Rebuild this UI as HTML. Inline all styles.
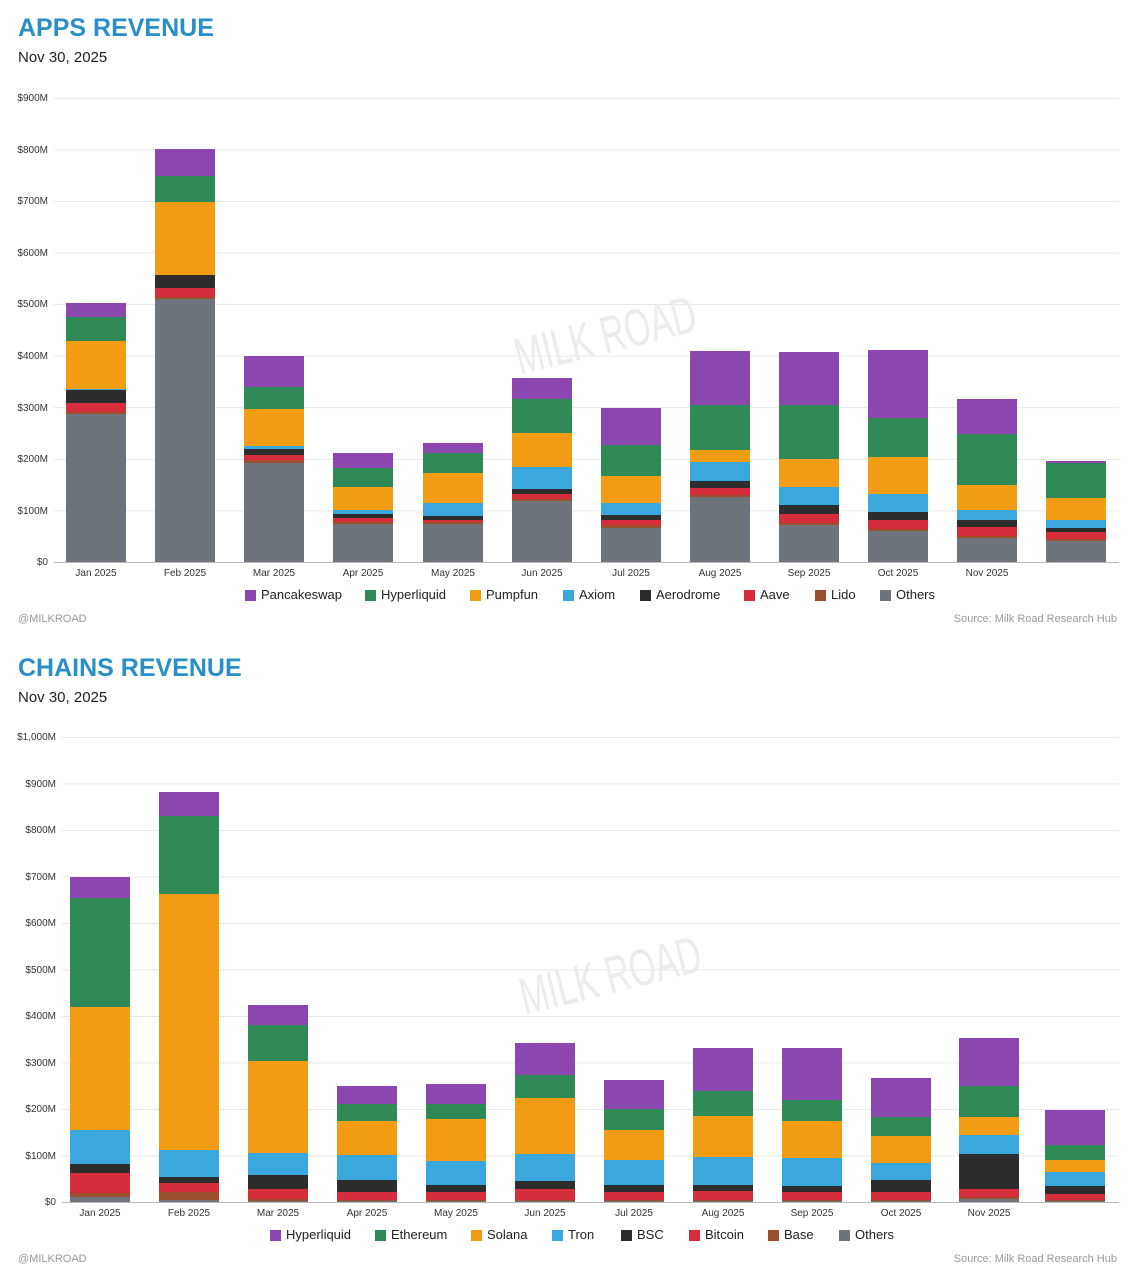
<!DOCTYPE html>
<html><head><meta charset="utf-8"><style>
body{margin:0;background:#fff;width:1137px;height:1280px;overflow:hidden;font-family:"Liberation Sans",Arial,sans-serif}
</style></head><body>
<svg id="s" width="1137" height="1280" xmlns="http://www.w3.org/2000/svg" font-family="Liberation Sans, Arial, sans-serif">
<rect width="1137" height="1280" fill="#fff"/>
<text x="18" y="36" font-size="25" font-weight="bold" fill="#2a8fc6">APPS REVENUE</text>
<text x="18" y="62" font-size="15" fill="#222">Nov 30, 2025</text>
<text x="18" y="676" font-size="25" font-weight="bold" fill="#2a8fc6">CHAINS REVENUE</text>
<text x="18" y="702" font-size="15" fill="#222">Nov 30, 2025</text>
<g id="grid"></g>
<g font-size="10" fill="#333" text-anchor="end">
<text x="48" y="565">$0</text><text x="48" y="514">$100M</text><text x="48" y="462">$200M</text><text x="48" y="411">$300M</text><text x="48" y="359">$400M</text><text x="48" y="307">$500M</text><text x="48" y="256">$600M</text><text x="48" y="204">$700M</text><text x="48" y="153">$800M</text><text x="48" y="101">$900M</text>
<text x="56" y="1205">$0</text><text x="56" y="1159">$100M</text><text x="56" y="1112">$200M</text><text x="56" y="1066">$300M</text><text x="56" y="1019">$400M</text><text x="56" y="973">$500M</text><text x="56" y="926">$600M</text><text x="56" y="880">$700M</text><text x="56" y="833">$800M</text><text x="56" y="787">$900M</text><text x="56" y="740">$1,000M</text>
</g>
<text x="520" y="375" font-size="52" fill="#ececec" transform="rotate(-14 520 375)" textLength="185" lengthAdjust="spacingAndGlyphs">MILK ROAD</text>
<text x="525" y="1015" font-size="52" fill="#ececec" transform="rotate(-14 525 1015)" textLength="185" lengthAdjust="spacingAndGlyphs">MILK ROAD</text>
<g id="bars"></g>
<g font-size="10" fill="#333" text-anchor="middle">
<text x="96" y="576">Jan 2025</text><text x="185" y="576">Feb 2025</text><text x="274" y="576">Mar 2025</text><text x="363" y="576">Apr 2025</text><text x="453" y="576">May 2025</text><text x="542" y="576">Jun 2025</text><text x="631" y="576">Jul 2025</text><text x="720" y="576">Aug 2025</text><text x="809" y="576">Sep 2025</text><text x="898" y="576">Oct 2025</text><text x="987" y="576">Nov 2025</text>
<text x="100" y="1216">Jan 2025</text><text x="189" y="1216">Feb 2025</text><text x="278" y="1216">Mar 2025</text><text x="367" y="1216">Apr 2025</text><text x="456" y="1216">May 2025</text><text x="545" y="1216">Jun 2025</text><text x="634" y="1216">Jul 2025</text><text x="723" y="1216">Aug 2025</text><text x="812" y="1216">Sep 2025</text><text x="901" y="1216">Oct 2025</text><text x="989" y="1216">Nov 2025</text>
</g>
<g font-size="13" fill="#222">
<rect x="245" y="590" width="11" height="11" fill="#8b46b0"/><text x="261" y="599">Pancakeswap</text>
<rect x="365" y="590" width="11" height="11" fill="#2f8a57"/><text x="381" y="599">Hyperliquid</text>
<rect x="470" y="590" width="11" height="11" fill="#f29c14"/><text x="486" y="599">Pumpfun</text>
<rect x="563" y="590" width="11" height="11" fill="#3aa8dc"/><text x="579" y="599">Axiom</text>
<rect x="640" y="590" width="11" height="11" fill="#2d2d2d"/><text x="656" y="599">Aerodrome</text>
<rect x="744" y="590" width="11" height="11" fill="#d62d3c"/><text x="760" y="599">Aave</text>
<rect x="815" y="590" width="11" height="11" fill="#9c4f2c"/><text x="831" y="599">Lido</text>
<rect x="880" y="590" width="11" height="11" fill="#6d747c"/><text x="896" y="599">Others</text>
<rect x="270" y="1230" width="11" height="11" fill="#8b46b0"/><text x="286" y="1239">Hyperliquid</text>
<rect x="375" y="1230" width="11" height="11" fill="#2f8a57"/><text x="391" y="1239">Ethereum</text>
<rect x="471" y="1230" width="11" height="11" fill="#f29c14"/><text x="487" y="1239">Solana</text>
<rect x="552" y="1230" width="11" height="11" fill="#3aa8dc"/><text x="568" y="1239">Tron</text>
<rect x="621" y="1230" width="11" height="11" fill="#2d2d2d"/><text x="637" y="1239">BSC</text>
<rect x="689" y="1230" width="11" height="11" fill="#d62d3c"/><text x="705" y="1239">Bitcoin</text>
<rect x="768" y="1230" width="11" height="11" fill="#9c4f2c"/><text x="784" y="1239">Base</text>
<rect x="839" y="1230" width="11" height="11" fill="#6d747c"/><text x="855" y="1239">Others</text>
</g>
<g font-size="11" fill="#999">
<text x="18" y="622">@MILKROAD</text><text x="1117" y="622" text-anchor="end">Source: Milk Road Research Hub</text>
<text x="18" y="1262">@MILKROAD</text><text x="1117" y="1262" text-anchor="end">Source: Milk Road Research Hub</text>
</g>
</svg>
<script>
(function(){
var NS="http://www.w3.org/2000/svg";
function r(g,x,y,w,h,f){var e=document.createElementNS(NS,"rect");e.setAttribute("x",x);e.setAttribute("y",y);e.setAttribute("width",w);e.setAttribute("height",h);e.setAttribute("fill",f);g.appendChild(e);}
var grid=document.getElementById("grid"),bars=document.getElementById("bars");
for(var k=0;k<=9;k++){r(grid,54,562-51.56*k,1065,k?0.8:1,k?"#e3e3e3":"#bbb");}
for(var k=0;k<=10;k++){r(grid,62,1202-46.5*k,1057,k?0.8:1,k?"#e3e3e3":"#bbb");}
var cols=["#6d747c","#9c4f2c","#d62d3c","#2d2d2d","#3aa8dc","#f29c14","#2f8a57","#8b46b0"];
var topData=[[414,412,403,390,389,341,317,303],[299,297,288,275,275,202,176,149],[463,460,455,449,446,409,387,356],[524,522,518,514,510,487,468,453],[524,522,520,516,503,473,453,443],[501,499,494,489,467,433,399,378],[528,525,520,515,503,476,445,408],[497,495,488,481,462,450,405,351],[525,523,514,505,487,459,405,352],[531,529,520,512,494,457,418,350],[538,536,527,520,510,485,434,399],[541,539,532,528,520,498,463,461]];
var tx=[96,185,274,363,453,542,631,720,809,898,987,1076];
var botData=[[1197,1193,1173,1164,1130,1007,898,877],[1200,1192,1183,1177,1150,894,816,792],[1201,1199,1189,1175,1153,1061,1025,1005],[1201,1200,1192,1180,1155,1121,1104,1086],[1201,1200,1192,1185,1161,1119,1104,1084],[1201,1200,1189,1181,1154,1098,1075,1043],[1201,1200,1192,1185,1160,1130,1109,1080],[1201,1200,1191,1185,1157,1116,1091,1048],[1201,1200,1192,1186,1158,1121,1100,1048],[1201,1200,1192,1180,1163,1136,1117,1078],[1199,1197,1189,1154,1135,1117,1086,1038],[1201,1200,1194,1186,1172,1160,1145,1110]];
var bx=[100,189,278,367,456,545,634,723,812,901,989,1075];
function draw(data,xs,base){data.forEach(function(b,i){var prev=base;b.forEach(function(y,j){if(prev-y>0)r(bars,xs[i]-30,y,60,prev-y,cols[j]);prev=y;});});}
draw(topData,tx,562);draw(botData,bx,1202);
})();
</script>
</body></html>
